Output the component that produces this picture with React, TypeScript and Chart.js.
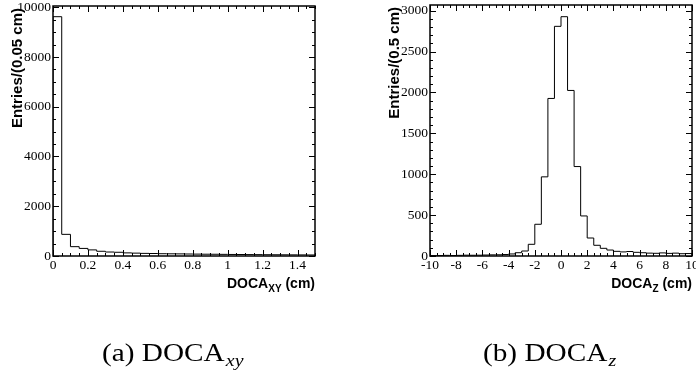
import React, { useEffect, useRef } from "react";
import { Chart, registerables } from "chart.js";

Chart.register(...registerables);

// ---- DOCA_xy : 30 bins of 0.05 cm between 0 and 1.5 cm ----
const xyBinLow = 0;
const xyBinWidth = 0.05;
const xyCounts = [
  9620, 870, 375, 305, 245, 190, 160, 150, 125, 115,
  105, 100, 92, 88, 85, 80, 76, 72, 70, 66,
  62, 60, 57, 55, 52, 50, 48, 46, 44, 42,
];
const xyXTicks = [0, 0.2, 0.4, 0.6, 0.8, 1, 1.2, 1.4];
const xyXTickLabels = ["0", "0.2", "0.4", "0.6", "0.8", "1", "1.2", "1.4"];
const xyYTicks = [0, 2000, 4000, 6000, 8000, 10000];
const xyYTickLabels = ["0", "2000", "4000", "6000", "8000", "10000"];

// ---- DOCA_z : 40 bins of 0.5 cm between -10 and 10 cm ----
const zBinLow = -10;
const zBinWidth = 0.5;
const zCounts = [
  5, 6, 8, 6, 8, 10, 9, 10, 12, 14, 15, 18,
  25, 40, 61, 143, 388, 968, 1927, 2809, 2927, 2025, 1094, 490,
  220, 131, 94, 73, 57, 50, 55, 45, 40, 35, 33, 38, 32, 35, 28, 30,
];
const zXTicks = [-10, -8, -6, -4, -2, 0, 2, 4, 6, 8, 10];
const zXTickLabels = ["-10", "-8", "-6", "-4", "-2", "0", "2", "4", "6", "8", "10"];
const zYTicks = [0, 500, 1000, 1500, 2000, 2500, 3000];
const zYTickLabels = ["0", "500", "1000", "1500", "2000", "2500", "3000"];

type PanelSpec = {
  binLow: number;
  binWidth: number;
  counts: number[];
  xMin: number;
  xMax: number;
  yMax: number;
  xTicks: number[];
  xTickLabels: string[];
  xMinorStep: number;
  yTicks: number[];
  yTickLabels: string[];
  yMinorStep: number;
  yTitle: string;
  xTitleMain: string;
  xTitleSub: string;
  caption: string;
  captionSub: string;
  captionX: number;
  padding: { left: number; right: number; top: number; bottom: number };
};

const TICK_FONT = "13.5px 'Liberation Serif', 'Times New Roman', serif";
const TITLE_FONT = "bold 14px 'Liberation Sans', Arial, sans-serif";
const YTITLE_FONT = "bold 15px 'Liberation Sans', Arial, sans-serif";
const SUB_FONT = "bold 10px 'Liberation Sans', Arial, sans-serif";
const CAPTION_FONT = "25px 'Liberation Serif', 'Times New Roman', serif";
const CAPTION_SUB_FONT = "italic 17px 'Liberation Serif', 'Times New Roman', serif";

// Histogram outline: one point per bin low edge, closed down to zero at both ends
function stepPoints(binLow: number, binWidth: number, counts: number[]) {
  const pts: { x: number; y: number }[] = [{ x: binLow, y: 0 }];
  counts.forEach((c, i) => pts.push({ x: binLow + i * binWidth, y: c }));
  const hi = binLow + counts.length * binWidth;
  pts.push({ x: hi, y: counts[counts.length - 1] });
  pts.push({ x: hi, y: 0 });
  return pts;
}

function tickValues(min: number, max: number, step: number) {
  const out: number[] = [];
  const start = Math.ceil(min / step - 1e-9);
  for (let k = start; k * step <= max + 1e-9; k++) out.push(k * step);
  return out;
}

function isMajor(v: number, majors: number[]) {
  return majors.some((m) => Math.abs(m - v) < 1e-6);
}

function framePlugin(spec: PanelSpec) {
  return {
    id: "frameAxes",
    afterDraw(chart: any) {
      const ctx: CanvasRenderingContext2D = chart.ctx;
      const { left, right, top, bottom } = chart.chartArea;
      const xs = chart.scales.x;
      const ys = chart.scales.y;
      ctx.save();
      ctx.strokeStyle = "#000";
      ctx.fillStyle = "#000";

      // frame
      ctx.lineWidth = 1.5;
      ctx.strokeRect(left, top, right - left, bottom - top);

      // ticks on all four sides, pointing inward
      ctx.lineWidth = 1;
      ctx.beginPath();
      for (const v of tickValues(spec.xMin, spec.xMax, spec.xMinorStep)) {
        const px = Math.round(xs.getPixelForValue(v)) + 0.5;
        const len = isMajor(v, spec.xTicks) ? 6 : 3;
        ctx.moveTo(px, bottom);
        ctx.lineTo(px, bottom - len);
        ctx.moveTo(px, top);
        ctx.lineTo(px, top + len);
      }
      for (const v of tickValues(0, spec.yMax, spec.yMinorStep)) {
        const py = Math.round(ys.getPixelForValue(v)) + 0.5;
        const len = isMajor(v, spec.yTicks) ? 6 : 3;
        ctx.moveTo(left, py);
        ctx.lineTo(left + len, py);
        ctx.moveTo(right, py);
        ctx.lineTo(right - len, py);
      }
      ctx.stroke();

      // tick labels
      ctx.font = TICK_FONT;
      ctx.textAlign = "center";
      ctx.textBaseline = "top";
      spec.xTicks.forEach((v, i) => {
        ctx.fillText(spec.xTickLabels[i], xs.getPixelForValue(v), bottom + 3);
      });
      ctx.textAlign = "right";
      ctx.textBaseline = "middle";
      spec.yTicks.forEach((v, i) => {
        ctx.fillText(spec.yTickLabels[i], left - 2, ys.getPixelForValue(v));
      });

      // x title, right aligned under the axis, with subscript
      ctx.textBaseline = "alphabetic";
      ctx.textAlign = "left";
      ctx.font = TITLE_FONT;
      const wMain = ctx.measureText(spec.xTitleMain).width;
      const wTail = ctx.measureText(" (cm)").width;
      ctx.font = SUB_FONT;
      const wSub = ctx.measureText(spec.xTitleSub).width;
      const base = bottom + 32;
      let x = right - (wMain + wSub + wTail);
      ctx.font = TITLE_FONT;
      ctx.fillText(spec.xTitleMain, x, base);
      x += wMain;
      ctx.font = SUB_FONT;
      ctx.fillText(spec.xTitleSub, x, base + 3.5);
      x += wSub;
      ctx.font = TITLE_FONT;
      ctx.fillText(" (cm)", x, base);

      // y title, rotated, right aligned at the top of the axis
      ctx.save();
      ctx.translate(left - 31, top + 2);
      ctx.rotate(-Math.PI / 2);
      ctx.font = YTITLE_FONT;
      ctx.textAlign = "right";
      ctx.fillText(spec.yTitle, 0, 0);
      ctx.restore();

      // sub-figure caption
      ctx.save();
      ctx.translate(spec.captionX, 361);
      ctx.scale(1.17, 1);
      ctx.textAlign = "left";
      ctx.font = CAPTION_FONT;
      ctx.fillText(spec.caption, 0, 0);
      const wCap = ctx.measureText(spec.caption).width;
      ctx.font = CAPTION_SUB_FONT;
      ctx.fillText(spec.captionSub, wCap + 1, 5);
      ctx.restore();

      ctx.restore();
    },
  };
}

function HistPanel({ spec, width, height }: { spec: PanelSpec; width: number; height: number }) {
  const ref = useRef<HTMLCanvasElement | null>(null);
  useEffect(() => {
    if (!ref.current) return;
    const chart = new Chart(ref.current, {
      type: "line",
      data: {
        datasets: [
          {
            data: stepPoints(spec.binLow, spec.binWidth, spec.counts),
            borderColor: "#000",
            borderWidth: 1,
            pointRadius: 0,
            stepped: "before",
            fill: false,
          },
        ],
      },
      options: {
        responsive: false,
        animation: false,
        devicePixelRatio: 1,
        layout: { padding: spec.padding },
        plugins: { legend: { display: false }, tooltip: { enabled: false } },
        scales: {
          x: { type: "linear", min: spec.xMin, max: spec.xMax, display: false },
          y: { type: "linear", min: 0, max: spec.yMax, display: false },
        },
      },
      plugins: [framePlugin(spec)],
    } as any);
    return () => chart.destroy();
  }, [spec]);
  return <canvas ref={ref} width={width} height={height} style={{ display: "block" }} />;
}

const xySpec: PanelSpec = {
  binLow: xyBinLow,
  binWidth: xyBinWidth,
  counts: xyCounts,
  xMin: 0,
  xMax: 1.5,
  yMax: 10050,
  xTicks: xyXTicks,
  xTickLabels: xyXTickLabels,
  xMinorStep: 0.05,
  yTicks: xyYTicks,
  yTickLabels: xyYTickLabels,
  yMinorStep: 500,
  yTitle: "Entries/(0.05 cm)",
  xTitleMain: "DOCA",
  xTitleSub: "XY",
  caption: "(a) DOCA",
  captionSub: "xy",
  captionX: 102,
  padding: { left: 53, right: 33, top: 6, bottom: 119 },
};

const zSpec: PanelSpec = {
  binLow: zBinLow,
  binWidth: zBinWidth,
  counts: zCounts,
  xMin: -10,
  xMax: 10,
  yMax: 3070,
  xTicks: zXTicks,
  xTickLabels: zXTickLabels,
  xMinorStep: 0.5,
  yTicks: zYTicks,
  yTickLabels: zYTickLabels,
  yMinorStep: 100,
  yTitle: "Entries/(0.5 cm)",
  xTitleMain: "DOCA",
  xTitleSub: "Z",
  caption: "(b) DOCA",
  captionSub: "z",
  captionX: 135,
  padding: { left: 82, right: 4, top: 5, bottom: 119 },
};

export default function App() {
  return (
    <div style={{ position: "absolute", left: 0, top: 0, width: 696, height: 375, background: "#fff", overflow: "hidden" }}>
      <div style={{ position: "absolute", left: 0, top: 0 }}>
        <HistPanel spec={xySpec} width={348} height={375} />
      </div>
      <div style={{ position: "absolute", left: 348, top: 0 }}>
        <HistPanel spec={zSpec} width={348} height={375} />
      </div>
    </div>
  );
}
